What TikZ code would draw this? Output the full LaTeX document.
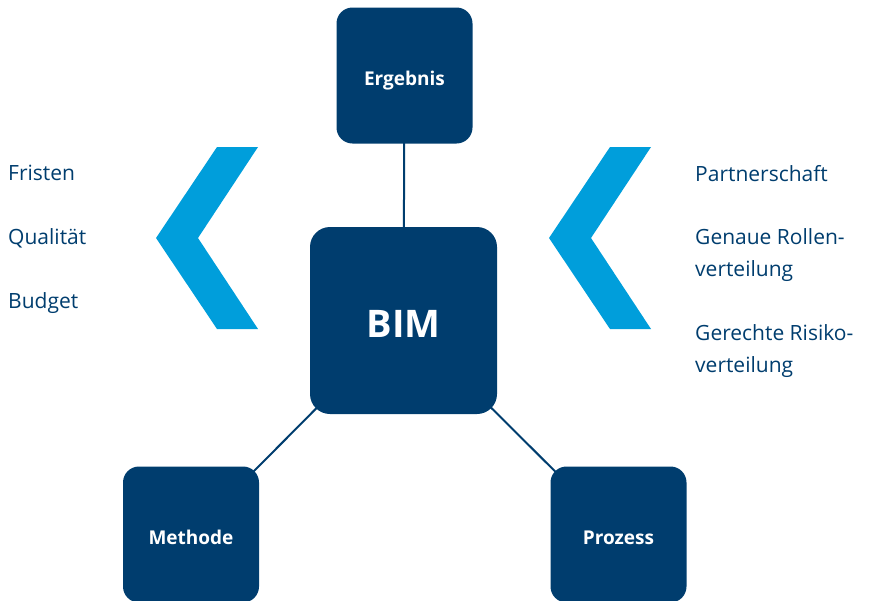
\documentclass[tikz,border=0pt]{standalone}
\usepackage{fontspec}
\setmainfont{Open Sans}
\usetikzlibrary{positioning,backgrounds}

\newlength{\du}
\setlength{\du}{1pt}

\definecolor{bimblue}{rgb}{0.000000, 0.239216, 0.431373}
\definecolor{chevronblue}{rgb}{0.000000, 0.619608, 0.858824}

\tikzset{
  bimbox/.style={draw=none, fill=bimblue, rounded corners=16\du, inner sep=0pt,
    minimum width=136\du, minimum height=136\du, text=white,
    text height=19\du, text depth=0pt,
    font=\fontsize{19}{22}\selectfont\bfseries},
  bimlink/.style={draw=bimblue, line width=2\du},
  bimtext/.style={anchor=base west, inner sep=0pt, text=bimblue,
    font=\fontsize{21}{32}\selectfont},
}

\begin{document}
\begin{tikzpicture}
\pgftransformxscale{1.000000}
\pgftransformyscale{-1.000000}
\useasboundingbox (0\du,0\du) rectangle (869\du,600\du);
\clip (0\du,0\du) rectangle (869\du,600\du);
% chevrons
\fill[chevronblue] (217\du,147\du)--(258\du,147\du)--(198\du,238\du)--(258\du,329\du)--(217\du,329\du)--(156\du,238\du)--cycle;
\fill[chevronblue] (610\du,147\du)--(651\du,147\du)--(591\du,238\du)--(651\du,329\du)--(610\du,329\du)--(549\du,238\du)--cycle;
% boxes
\node[bimbox] (ergebnis) at (404.5\du,75.5\du){Ergebnis};
\node[bimbox, minimum width=187\du, minimum height=187\du, rounded corners=20\du,
  text height=33\du, font=\fontsize{38}{44}\selectfont\bfseries] (bim) at (403.5\du,320.5\du){BIM};
\node[bimbox] (methode) at (191\du,534.5\du){Methode};
\node[bimbox] (prozess) at (618.5\du,534.5\du){Prozess};
% links, centre to centre behind the boxes
\begin{scope}[on background layer]
\draw[bimlink] (ergebnis.center) -- (bim.center);
\draw[bimlink] (bim.center) -- (methode.center);
\draw[bimlink] (bim.center) -- (prozess.center);
\end{scope}
% left list
\node[bimtext] (fristen) at (8\du,180\du){Fristen};
\node[bimtext] (qualitaet) at (8\du,244\du){Qualität};
\node[bimtext] (budget) at (8\du,308\du){Budget};
% right list
\node[bimtext] (partner) at (695\du,181\du){Partnerschaft};
\node[bimtext] (rollen) at (695\du,244\du){Genaue Rollen-};
\node[bimtext] (rollenb) at (695\du,276\du){verteilung};
\node[bimtext] (risiko) at (695\du,340\du){Gerechte Risiko-};
\node[bimtext] (risikob) at (695\du,372\du){verteilung};
\end{tikzpicture}
\end{document}
